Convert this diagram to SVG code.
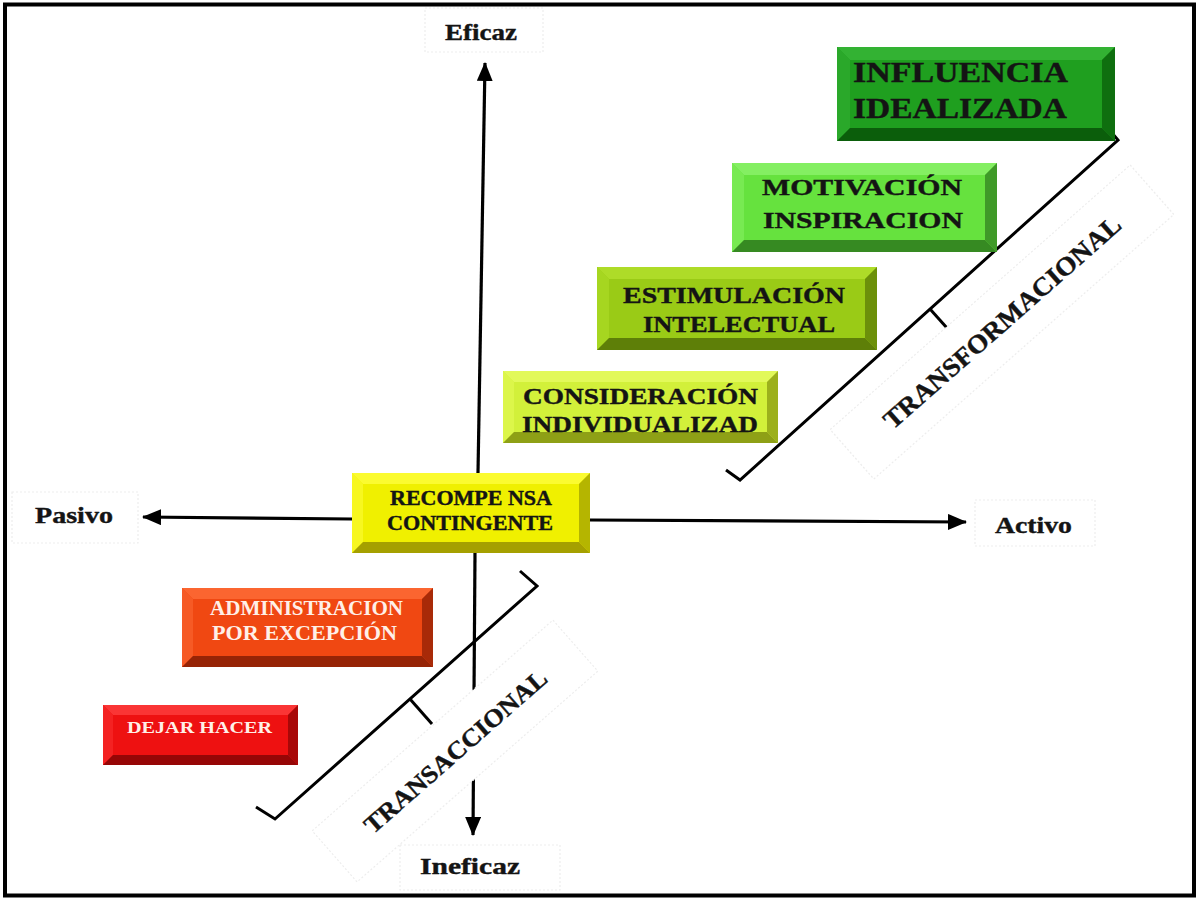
<svg xmlns="http://www.w3.org/2000/svg" width="1199" height="899" viewBox="0 0 1199 899">
<style>
text{font-family:"Liberation Serif","Times New Roman",serif;font-weight:bold}
.dk{fill:#141414;stroke:#141414;stroke-width:0.4}
.lt{fill:#fff0e8}
.ax{stroke:#000;stroke-width:3.2;fill:none}
.br{stroke:#000;stroke-width:3;fill:none;stroke-linejoin:miter}
.lbl{fill:#fff;stroke:#ededed;stroke-width:1.2;stroke-dasharray:2 2}
#n1 .f{fill:#1f9f1f}#n1 .t{fill:#33b233}#n1 .l{fill:#2aa82a}#n1 .r{fill:#0f6f0f}#n1 .b{fill:#0b5e0b}
#n2 .f{fill:#66e23e}#n2 .t{fill:#84ef62}#n2 .l{fill:#78ea52}#n2 .r{fill:#3f9a28}#n2 .b{fill:#368a22}
#n3 .f{fill:#9acb16}#n3 .t{fill:#aedc28}#n3 .l{fill:#a6d620}#n3 .r{fill:#6c900a}#n3 .b{fill:#5e7f08}
#n4 .f{fill:#d2f03a}#n4 .t{fill:#e2f95a}#n4 .l{fill:#dcf64a}#n4 .r{fill:#9cb01c}#n4 .b{fill:#8ea016}
#n5 .f{fill:#f0f000}#n5 .t{fill:#fbfb30}#n5 .l{fill:#f7f720}#n5 .r{fill:#b5b500}#n5 .b{fill:#a5a000}
#n6 .f{fill:#f04812}#n6 .t{fill:#fb6530}#n6 .l{fill:#f65a25}#n6 .r{fill:#a82a08}#n6 .b{fill:#962406}
#n7 .f{fill:#ee1111}#n7 .t{fill:#fa3535}#n7 .l{fill:#f42222}#n7 .r{fill:#a80808}#n7 .b{fill:#960606}
</style>
<defs>
<marker id="ah" markerUnits="userSpaceOnUse" markerWidth="19" markerHeight="16" viewBox="0 0 19 16" refX="18" refY="8" orient="auto">
<path d="M0,0 L19,8 L0,16 z" fill="#000"/>
</marker>
</defs>
<rect x="5" y="4.5" width="1189" height="891" fill="#fff" stroke="#000" stroke-width="4"/>

<g id="connectors">
<path class="ax" d="M478,473 L485,63" marker-end="url(#ah)"/>
<path class="ax" d="M475,553 L473,835" marker-end="url(#ah)"/>
<path class="ax" d="M352,519 L143,517" marker-end="url(#ah)"/>
<path class="ax" d="M590,520 L966,522" marker-end="url(#ah)"/>
<polyline class="br" points="1107,127 1118,140 740,480 726,470"/>
<line class="br" x1="930" y1="309" x2="947" y2="328"/>
<polyline class="br" points="520,571 537,586 275,819 256,807"/>
<line class="br" x1="410" y1="699" x2="432" y2="724"/>
</g>

<g id="lbl-eficaz"><rect class="lbl" x="425" y="8" width="118" height="44"/><text class="dk" x="445" y="40" font-size="24" textLength="72" lengthAdjust="spacingAndGlyphs">Eficaz</text></g>
<g id="lbl-pasivo"><rect class="lbl" x="12" y="492" width="126" height="51"/><text class="dk" x="35" y="523" font-size="24" textLength="78" lengthAdjust="spacingAndGlyphs">Pasivo</text></g>
<g id="lbl-activo"><rect class="lbl" x="975" y="500" width="120" height="46"/><text class="dk" x="995" y="533" font-size="24" textLength="77" lengthAdjust="spacingAndGlyphs">Activo</text></g>
<g id="lbl-ineficaz"><rect class="lbl" x="400" y="845" width="160" height="45"/><text class="dk" x="420" y="874" font-size="24" textLength="100" lengthAdjust="spacingAndGlyphs">Ineficaz</text></g>

<g id="lbl-transformacional" transform="translate(1002,322) rotate(-41.4)"><rect class="lbl" x="-200" y="-33" width="400" height="66"/><text class="dk" x="0" y="9" font-size="26" text-anchor="middle" textLength="307" lengthAdjust="spacingAndGlyphs">TRANSFORMACIONAL</text></g>
<g id="lbl-transaccional" transform="translate(455,751) rotate(-41.2)"><rect class="lbl" x="-160" y="-34" width="320" height="68"/><text class="dk" x="0" y="9" font-size="25" text-anchor="middle" textLength="234" lengthAdjust="spacingAndGlyphs">TRANSACCIONAL</text></g>

<g id="n1">
<rect class="f" x="837" y="47" width="278" height="94"/>
<polygon class="t" points="837,47 1115,47 1102,60 850,60"/>
<polygon class="l" points="837,47 850,60 850,128 837,141"/>
<polygon class="r" points="1115,47 1115,141 1102,128 1102,60"/>
<polygon class="b" points="837,141 850,128 1102,128 1115,141"/>
<text class="dk" x="853" y="82" font-size="29" textLength="215" lengthAdjust="spacingAndGlyphs">INFLUENCIA</text>
<text class="dk" x="853" y="118" font-size="29" textLength="214" lengthAdjust="spacingAndGlyphs">IDEALIZADA</text>
</g>
<g id="n2">
<rect class="f" x="732" y="163" width="265" height="89"/>
<polygon class="t" points="732,163 997,163 985,175 744,175"/>
<polygon class="l" points="732,163 744,175 744,240 732,252"/>
<polygon class="r" points="997,163 997,252 985,240 985,175"/>
<polygon class="b" points="732,252 744,240 985,240 997,252"/>
<text class="dk" x="762" y="195" font-size="23" textLength="200" lengthAdjust="spacingAndGlyphs">MOTIVACIÓN</text>
<text class="dk" x="763" y="228" font-size="23" textLength="200" lengthAdjust="spacingAndGlyphs">INSPIRACION</text>
</g>
<g id="n3">
<rect class="f" x="597" y="267" width="280" height="83"/>
<polygon class="t" points="597,267 877,267 865,279 609,279"/>
<polygon class="l" points="597,267 609,279 609,338 597,350"/>
<polygon class="r" points="877,267 877,350 865,338 865,279"/>
<polygon class="b" points="597,350 609,338 865,338 877,350"/>
<text class="dk" x="623" y="303" font-size="24" textLength="222" lengthAdjust="spacingAndGlyphs">ESTIMULACIÓN</text>
<text class="dk" x="643" y="332" font-size="24" textLength="192" lengthAdjust="spacingAndGlyphs">INTELECTUAL</text>
</g>
<g id="n4">
<rect class="f" x="503" y="371" width="275" height="72"/>
<polygon class="t" points="503,371 778,371 767,382 514,382"/>
<polygon class="l" points="503,371 514,382 514,432 503,443"/>
<polygon class="r" points="778,371 778,443 767,432 767,382"/>
<polygon class="b" points="503,443 514,432 767,432 778,443"/>
<text class="dk" x="523" y="404" font-size="24" textLength="235" lengthAdjust="spacingAndGlyphs">CONSIDERACIÓN</text>
<text class="dk" x="522" y="432" font-size="24" textLength="236" lengthAdjust="spacingAndGlyphs">INDIVIDUALIZAD</text>
</g>
<g id="n5">
<rect class="f" x="352" y="473" width="238" height="80"/>
<polygon class="t" points="352,473 590,473 579,484 363,484"/>
<polygon class="l" points="352,473 363,484 363,542 352,553"/>
<polygon class="r" points="590,473 590,553 579,542 579,484"/>
<polygon class="b" points="352,553 363,542 579,542 590,553"/>
<text class="dk" x="390" y="505" font-size="20" textLength="162" lengthAdjust="spacingAndGlyphs">RECOMPE NSA</text>
<text class="dk" x="387" y="530" font-size="20" textLength="166" lengthAdjust="spacingAndGlyphs">CONTINGENTE</text>
</g>
<g id="n6">
<rect class="f" x="182" y="588" width="251" height="79"/>
<polygon class="t" points="182,588 433,588 422,599 193,599"/>
<polygon class="l" points="182,588 193,599 193,656 182,667"/>
<polygon class="r" points="433,588 433,667 422,656 422,599"/>
<polygon class="b" points="182,667 193,656 422,656 433,667"/>
<text class="lt" x="210" y="615" font-size="20" textLength="193" lengthAdjust="spacingAndGlyphs">ADMINISTRACION</text>
<text class="lt" x="212" y="640" font-size="20" textLength="185" lengthAdjust="spacingAndGlyphs">POR EXCEPCIÓN</text>
</g>
<g id="n7">
<rect class="f" x="103" y="705" width="195" height="60"/>
<polygon class="t" points="103,705 298,705 288,715 113,715"/>
<polygon class="l" points="103,705 113,715 113,755 103,765"/>
<polygon class="r" points="298,705 298,765 288,755 288,715"/>
<polygon class="b" points="103,765 113,755 288,755 298,765"/>
<text class="lt" x="127" y="733" font-size="17" textLength="145" lengthAdjust="spacingAndGlyphs">DEJAR HACER</text>
</g>
</svg>
